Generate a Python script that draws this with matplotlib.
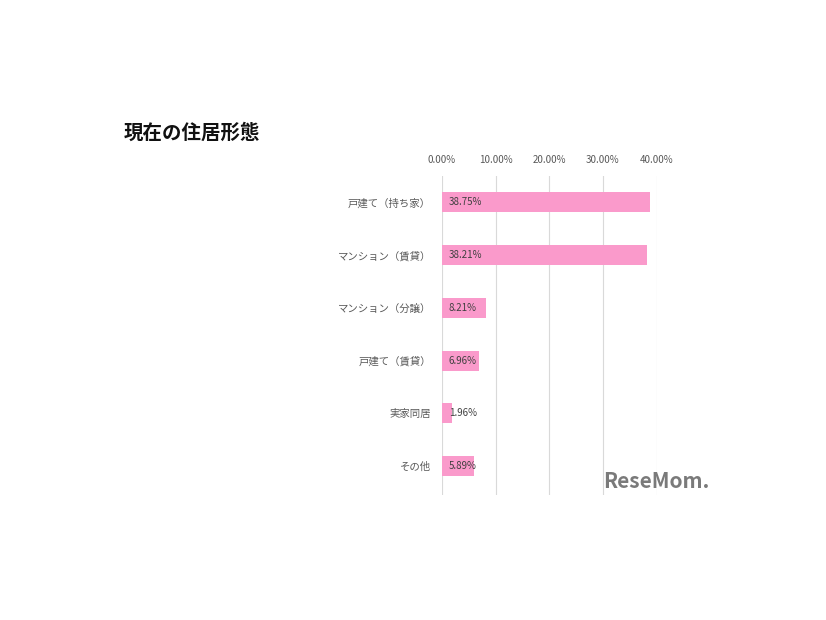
import matplotlib.pyplot as plt

plt.rcParams['font.family'] = ['Noto Sans CJK JP', 'DejaVu Sans']

# data
categories = ['戸建て（持ち家）', 'マンション（賃貸）', 'マンション（分譲）',
              '戸建て（賃貸）', '実家同居', 'その他']
values = [38.75, 38.21, 8.21, 6.96, 1.96, 5.89]
ticks = [0, 10, 20, 30, 40]

fig = plt.figure(figsize=(8.26, 6.2), dpi=100)
ax = fig.add_axes([0.535, 0.2016, 0.26, 0.5145])

pos = list(range(len(categories)))
ax.barh(pos, values, height=0.38, color='#FA9ACB', zorder=2)
for p, v in zip(pos, values):
    ax.annotate(f'{v:.2f}%', (0, p), xytext=(5, 0), textcoords='offset points',
                va='center', ha='left', fontsize=7, color='#404040', zorder=3)

ax.set_xlim(0, 40)
ax.set_ylim(5.55, -0.5)
ax.set_xticks(ticks)
ax.set_xticklabels([f'{t:.2f}%' for t in ticks], fontsize=7, color='#595959')
ax.xaxis.tick_top()
ax.set_yticks(pos)
ax.set_yticklabels(categories, fontsize=7.5, color='#595959')
ax.tick_params(length=0, axis='y', pad=8)
ax.tick_params(length=0, axis='x', pad=8)
ax.grid(axis='x', color='#D9D9D9', linewidth=0.8, zorder=0)
for s in ax.spines.values():
    s.set_visible(False)

fig.text(124 / 826, 1 - 133 / 620, '現在の住居形態', fontsize=14, fontweight='bold',
         va='center', ha='left', color='#111111')
fig.text(603 / 826, 1 - 482 / 620, 'ReseMom.', fontsize=15, fontweight='bold',
         va='center', ha='left', color='#7a7a7a')

fig.savefig('out.png', dpi=100)
